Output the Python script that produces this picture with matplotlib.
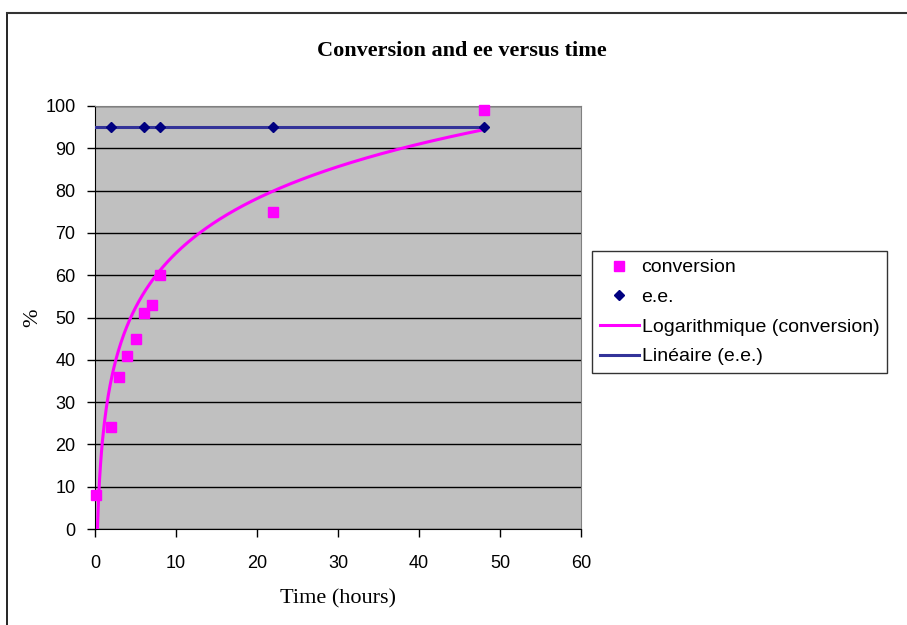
import numpy as np
import matplotlib
matplotlib.use("Agg")
import matplotlib.pyplot as plt
from matplotlib.lines import Line2D

# conversion data (%)
time_conv = [0.1, 2, 3, 4, 5, 6, 7, 8, 22, 48]
conversion = [8, 24, 36, 41, 45, 51, 53, 60, 75, 99]

# e.e. data (%)
time_ee = [2, 6, 8, 22, 48]
ee = [95, 95, 95, 95, 95]

# Excel trendlines: y = a*ln(x) + b, and flat e.e. line
LOG_A, LOG_B = 18.6, 22.4
LIN_SLOPE, LIN_ICPT = 0.0, 95.0

W, H = 907, 625
fig = plt.figure(figsize=(W / 100, H / 100), dpi=100)
ax = fig.add_axes([95 / W, 1 - 529 / H, (581 - 95) / W, (529 - 106) / H])
ax.set_facecolor("#C0C0C0")

SANS = ["Liberation Sans", "DejaVu Sans"]
SERIF = ["Liberation Serif", "DejaVu Serif"]

# trendlines
tx = np.linspace(0.2, max(time_conv), 400)
ty = LOG_A * np.log(tx) + LOG_B
ax.plot(tx, ty, color="#FF00FF", lw=2.2, label="Logarithmique (conversion)", zorder=3)
lx = np.array([0, max(time_ee)])
ax.plot(lx, LIN_SLOPE * lx + LIN_ICPT, color="#333399", lw=2.2, label="Linéaire (e.e.)", zorder=3)

ax.plot(time_conv, conversion, ls="none", marker="s", ms=7.5, color="#FF00FF",
        mec="#FF00FF", label="conversion", zorder=4, clip_on=False)
ax.plot(time_ee, ee, ls="none", marker="D", ms=5.5, color="#000080",
        label="e.e.", zorder=5, clip_on=False)

ax.set_xlim(0, 60)
ax.set_ylim(0, 100)
ax.set_xticks(range(0, 61, 10))
ax.set_yticks(range(0, 101, 10))
ax.yaxis.grid(True, color="black", lw=1)
ax.set_axisbelow(True)
for s in ("top", "right"):
    ax.spines[s].set_color("#808080")
for s in ("left", "bottom"):
    ax.spines[s].set_color("black")
ax.tick_params(direction="out", length=6, width=1, colors="black", labelsize=13)
ax.tick_params(axis="x", pad=13)
ax.tick_params(axis="y", pad=8)
for lab in ax.get_xticklabels() + ax.get_yticklabels():
    lab.set_family(SANS)

ax.set_xlabel("Time (hours)", family=SERIF, fontsize=16, labelpad=12)
ax.set_ylabel("%", family=SERIF, fontsize=16, labelpad=2)
fig.text(462 / W, 1 - 51 / H, "Conversion and ee versus time", family=SERIF,
         fontsize=16, fontweight="bold", ha="center", va="center")

h, l = ax.get_legend_handles_labels()
order = [2, 3, 0, 1]
leg = fig.legend([h[i] for i in order], [l[i] for i in order],
                 loc="upper left", bbox_to_anchor=(592 / W, 1 - 251 / H),
                 prop={"family": SANS, "size": 14}, frameon=True, fancybox=False,
                 edgecolor="black", handlelength=2.0, handletextpad=0.15,
                 borderpad=0.4, labelspacing=0.62, borderaxespad=0)
leg.get_frame().set_linewidth(1)

# outer chart frame (top and left edges visible)
fig.add_artist(Line2D([7 / W, 7 / W], [0, 1 - 13 / H], color="black", lw=1.2))
fig.add_artist(Line2D([7 / W, 1], [1 - 13 / H, 1 - 13 / H], color="#333333", lw=1.5))

fig.savefig("out.png", dpi=100)
